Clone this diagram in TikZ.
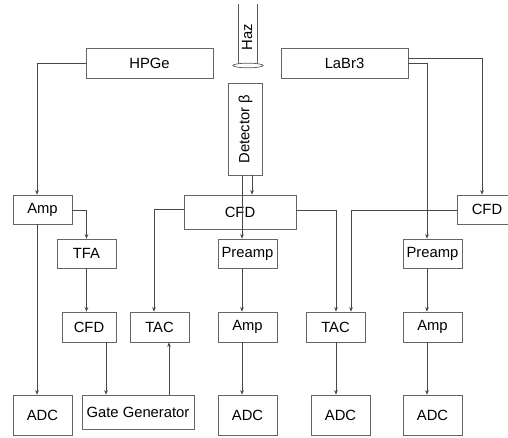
\documentclass[tikz,border=0pt]{standalone}
\usepackage{fontspec}
\setmainfont{Liberation Sans}
\usetikzlibrary{arrows.meta}
\begin{document}
\begin{tikzpicture}[x=1pt,y=-1pt,
  box/.style={draw=black!60,line width=0.7pt,inner sep=0pt,font=\fontsize{14.8}{17}\selectfont},
  conn/.style={draw=black!72,line width=0.7pt,-{Stealth[length=4.5pt,width=3.6pt]}},
  plain/.style={draw=black!65,line width=0.7pt}]
\clip (0,0) rectangle (508,437);
% beam
\draw[plain] (238,4) -- (238,64);
\draw[plain] (257,4) -- (257,64);
\draw[plain,fill=white] (248,65.5) ellipse [x radius=15, y radius=2.3];
\node[font=\fontsize{14.8}{17}\selectfont,rotate=90] (haz) at (247,37) {Haz};
% boxes
\node[box,minimum width=127,minimum height=30] (hpge) at (149.5,63) {HPGe};
\node[box,minimum width=127,minimum height=30] (labr) at (344.5,63) {LaBr3};
\node[box,minimum width=34,minimum height=92] (det) at (245,129) {};
\node[font=\fontsize{14.8}{17}\selectfont,rotate=90] (dettext) at (245.5,129) {Detector β};
\node[box,minimum width=112,minimum height=34] (cfdc) at (240,212) {CFD};
\node[box,minimum width=60,minimum height=29] (cfdr) at (487,209.5) {CFD};
\node[box,minimum width=59,minimum height=29] (ampl) at (42.5,209.5) {Amp};
\node[box,minimum width=59,minimum height=29] (tfa) at (86.5,253.5) {TFA};
\node[box,minimum width=54,minimum height=30] (cfdl) at (89,327) {CFD};
\node[box,minimum width=59,minimum height=30] (tacl) at (159.5,327) {TAC};
\node[box,minimum width=112,minimum height=34] (gg) at (138,412) {Gate Generator};
\node[box,minimum width=59,minimum height=40] (adc1) at (42.5,415) {ADC};
\node[box,minimum width=59,minimum height=29] (prec) at (247.5,253.5) {Preamp};
\node[box,minimum width=59,minimum height=30] (ampc) at (247.5,327) {Amp};
\node[box,minimum width=59,minimum height=40] (adc2) at (247.5,415) {ADC};
\node[box,minimum width=59,minimum height=30] (tacr) at (335.5,327) {TAC};
\node[box,minimum width=59,minimum height=40] (adc3) at (340.5,415) {ADC};
\node[box,minimum width=59,minimum height=29] (prer) at (432.5,253.5) {Preamp};
\node[box,minimum width=59,minimum height=30] (ampr) at (432.5,327) {Amp};
\node[box,minimum width=59,minimum height=40] (adc4) at (432.5,415) {ADC};
% connectors left
\draw[conn] (hpge.west) -| ([xshift=-5.5pt]ampl.north);
\draw[conn] ([yshift=-0.5pt]ampl.east) -| (tfa.north);
\draw[conn] (tfa.south) -- (tfa.south |- cfdl.north);
\draw[conn] ([xshift=17pt]cfdl.south) -- ([xshift=17pt]cfdl.south |- gg.north);
\draw[conn] ([xshift=31pt]gg.north) -- ([xshift=31pt]gg.north |- tacl.south);
\draw[conn] ([xshift=-5.5pt]ampl.south) -- ([xshift=-5.5pt]ampl.south |- adc1.north);
\draw[conn] ([yshift=3pt]cfdc.west) -| ([xshift=-5.5pt]tacl.north);
% centre
\draw[conn] ([xshift=7pt]det.south) -- ([xshift=7pt]det.south |- cfdc.north);
\draw[conn] ([xshift=-3pt]det.south) -- ([xshift=-3pt]det.south |- prec.north);
\draw[conn] ([xshift=-5.5pt]prec.south) -- ([xshift=-5.5pt]prec.south |- ampc.north);
\draw[conn] ([xshift=-5.5pt]ampc.south) -- ([xshift=-5.5pt]ampc.south |- adc2.north);
% right
\draw[conn] ([yshift=2pt]cfdc.east) -| ([xshift=0.5pt]tacr.north);
\draw[conn] ([yshift=-0.5pt]cfdr.west) -| ([xshift=15.5pt]tacr.north);
\draw[conn] ([xshift=0.5pt]tacr.south) -- ([xshift=0.5pt]tacr.south |- adc3.north);
\draw[conn] ([yshift=5pt]labr.east) -| ([xshift=-5pt]cfdr.north);
\draw[conn] (labr.east) -| ([xshift=-5.5pt]prer.north);
\draw[conn] ([xshift=-5.5pt]prer.south) -- ([xshift=-5.5pt]prer.south |- ampr.north);
\draw[conn] ([xshift=-5.5pt]ampr.south) -- ([xshift=-5.5pt]ampr.south |- adc4.north);
\end{tikzpicture}
\end{document}
